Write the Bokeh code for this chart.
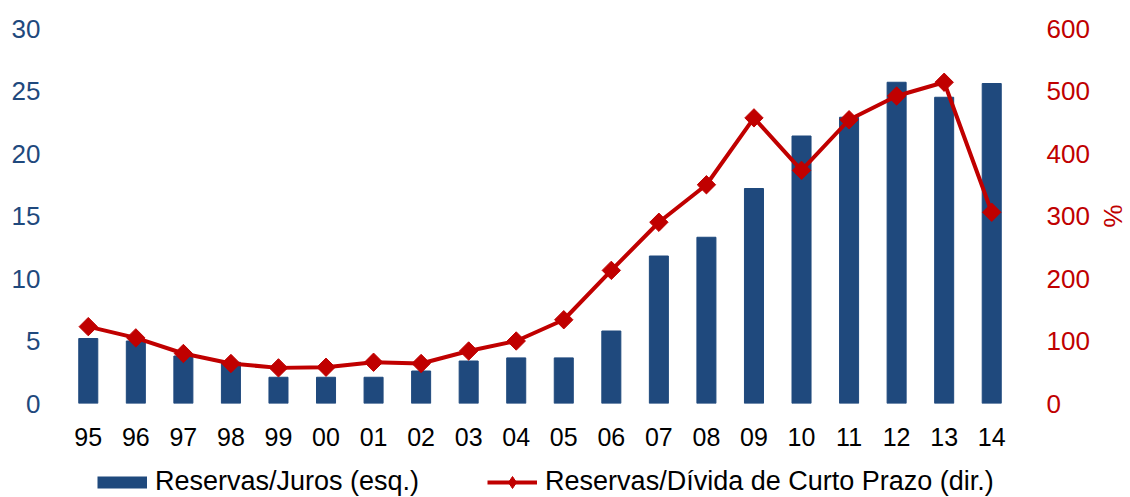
import math
from bokeh.plotting import figure
from bokeh.layouts import column
from bokeh.models import Range1d, LinearAxis, FactorRange, Legend, LegendItem, FixedTicker
from bokeh.embed import file_html
from bokeh.resources import INLINE

years = ["95", "96", "97", "98", "99", "00", "01", "02", "03", "04",
         "05", "06", "07", "08", "09", "10", "11", "12", "13", "14"]
reservas_juros = [5.2, 5.0, 3.8, 3.3, 2.1, 2.1, 2.1, 2.6, 3.4, 3.65,
                  3.65, 5.8, 11.8, 13.3, 17.2, 21.4, 22.9, 25.7, 24.5, 25.6]
reservas_divida = [123, 105, 80, 64, 57, 58, 66, 64, 84, 100,
                   134, 213, 290, 350, 457, 373, 454, 492, 514, 306]
left_ticks = [0, 5, 10, 15, 20, 25, 30]
right_ticks = [0, 100, 200, 300, 400, 500, 600]
legend_labels = ["Reservas/Juros (esq.)", "Reservas/Dívida de Curto Prazo (dir.)"]

BAR = "#1F497D"
RED = "#C00000"
FONT = "Liberation Sans"

p = figure(x_range=FactorRange(*years, range_padding=0), y_range=Range1d(0, 30),
           width=1130, height=455, output_backend="svg", toolbar_location=None,
           min_border_top=28, min_border_left=64, min_border_bottom=52, min_border_right=103)
p.extra_y_ranges = {"pct": Range1d(0, 600)}

p.vbar(x=years, top=reservas_juros, width=0.4, fill_color=BAR, line_color=BAR)
p.line(x=years, y=reservas_divida, y_range_name="pct", line_color=RED, line_width=4)
p.scatter(x=years, y=reservas_divida, y_range_name="pct", marker="square",
          angle=math.pi / 4, size=13, fill_color=RED, line_color=RED)

p.xgrid.visible = False
p.ygrid.visible = False
p.outline_line_color = None

for ax in [p.xaxis[0], p.yaxis[0]]:
    ax.axis_line_color = None
    ax.major_tick_line_color = None
    ax.minor_tick_line_color = None
    ax.major_label_text_font = FONT

p.xaxis[0].major_label_text_font_size = "25px"
p.xaxis[0].major_label_text_color = "#000000"
p.xaxis[0].major_label_standoff = 18

p.yaxis[0].ticker = FixedTicker(ticks=left_ticks)
p.yaxis[0].major_label_text_font_size = "26px"
p.yaxis[0].major_label_text_color = BAR
p.yaxis[0].major_label_standoff = 18

ry = LinearAxis(y_range_name="pct", ticker=FixedTicker(ticks=right_ticks), axis_label="%")
ry.axis_line_color = None
ry.major_tick_line_color = None
ry.minor_tick_line_color = None
ry.major_label_text_font = FONT
ry.major_label_text_font_size = "26px"
ry.major_label_text_color = RED
ry.major_label_standoff = 25
ry.axis_label_text_font = FONT
ry.axis_label_text_font_size = "26px"
ry.axis_label_text_font_style = "normal"
ry.axis_label_text_color = RED
ry.axis_label_standoff = 5
p.add_layout(ry, "right")

# legend strip below the chart; proxy renderers hold the series but lie outside its view
lf = figure(width=1130, height=42, output_backend="svg", toolbar_location=None,
            x_range=FactorRange(*years, range_padding=0), y_range=Range1d(2000, 2001),
            x_axis_type=None, y_axis_type=None, min_border=0)
lf.xgrid.visible = False
lf.ygrid.visible = False
lf.outline_line_color = None
bar_proxy = lf.line(x=years, y=reservas_juros, line_color=BAR, line_width=12, line_cap="butt")
ln_proxy = lf.line(x=years, y=reservas_divida, line_color=RED, line_width=4)
pt_proxy = lf.scatter(x=years, y=reservas_divida, marker="diamond",
                      size=13, fill_color=RED, line_color=RED)

legend = Legend(items=[
    LegendItem(label=legend_labels[0], renderers=[bar_proxy]),
    LegendItem(label=legend_labels[1], renderers=[ln_proxy, pt_proxy]),
], location=(33, 0), orientation="horizontal")
legend.padding = 0
legend.margin = 0
legend.spacing = 68
legend.glyph_width = 50
legend.glyph_height = 30
legend.label_standoff = 8
legend.label_text_font = FONT
legend.label_text_font_size = "27px"
legend.label_text_color = "#000000"
legend.background_fill_alpha = 0
legend.border_line_color = None
lf.add_layout(legend, "center")

open("out.html", "w").write(file_html(column(p, lf, spacing=0), INLINE))
